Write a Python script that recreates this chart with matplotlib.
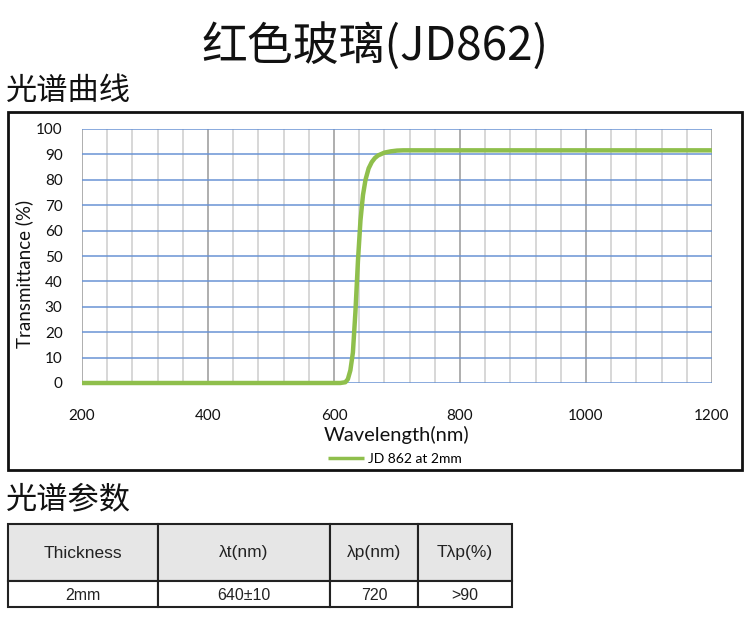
import matplotlib.pyplot as plt
from matplotlib.patches import Rectangle
from matplotlib.ticker import MultipleLocator

W, H = 750, 633

# curve
WAVELENGTH = [200, 500, 610, 618, 622, 626, 630, 634, 638, 642, 646, 650, 655,
              660, 665, 670, 680, 690, 700, 710, 720, 800, 1000, 1200]
TRANSMIT = [0, 0, 0, 0.3, 1.5, 5, 12, 28, 48, 64, 74, 80, 84.5,
            87, 88.6, 89.6, 90.7, 91.2, 91.5, 91.6, 91.6, 91.6, 91.6, 91.6]

TABLE_HEAD = ["Thickness", "λt(nm)", "λp(nm)", "Tλp(%)"]
TABLE_ROW = ["2mm", "640±10", "720", ">90"]

GREEN = "#8FBF4C"
BLUE_GRID = "#6A93D4"
GRAY_MAJ = "#A8A8A8"
GRAY_MIN = "#D4D4D4"
CJK = ["Noto Sans CJK SC", "DejaVu Sans"]
LAT = ["Lato", "DejaVu Sans"]
ARIAL = ["Liberation Sans", "DejaVu Sans"]


def fx(x):
    return x / W


def fy(y):
    return 1 - y / H


fig = plt.figure(figsize=(W / 100, H / 100), dpi=100, facecolor="white")

fig.text(0.5, fy(47), "红色玻璃(JD862)", ha="center", va="center",
         fontsize=33, family=CJK, color="#111111")
fig.text(fx(6), fy(91), "光谱曲线", ha="left", va="center",
         fontsize=22.5, family=CJK, color="#111111")
fig.text(fx(6), fy(499), "光谱参数", ha="left", va="center",
         fontsize=22.5, family=CJK, color="#111111")

# chart frame
fig.patches.append(Rectangle((fx(8), fy(470)), fx(742) - fx(8), fy(112) - fy(470),
                             transform=fig.transFigure, facecolor="white",
                             edgecolor="#111111", linewidth=2, zorder=-1))

ax = fig.add_axes([fx(82), fy(383), fx(712) - fx(82), fy(129) - fy(383)])
ax.set_zorder(2)
ax.set_facecolor("none")
ax.plot(WAVELENGTH, TRANSMIT, color=GREEN, linewidth=3.2, clip_on=False,
        solid_capstyle="butt", zorder=5, label="JD 862 at 2mm")
ax.set_xlim(200, 1200)
ax.set_ylim(0, 100)
ax.xaxis.set_major_locator(MultipleLocator(200))
ax.xaxis.set_minor_locator(MultipleLocator(40))
ax.yaxis.set_major_locator(MultipleLocator(10))
ax.grid(True, axis="x", which="minor", color=GRAY_MIN, linewidth=1.3)
ax.grid(True, axis="x", which="major", color=GRAY_MAJ, linewidth=1.3)
ax.grid(True, axis="y", which="major", color=BLUE_GRID, linewidth=1.1)
for s in ax.spines.values():
    s.set_visible(False)
ax.tick_params(axis="both", which="both", length=0)
ax.tick_params(axis="x", pad=19, labelsize=11)
ax.tick_params(axis="y", pad=14, labelsize=11)
for lab in ax.get_xticklabels() + ax.get_yticklabels():
    lab.set_family(LAT)
    lab.set_color("#111111")
ax.set_xlabel("Wavelength(nm)", fontsize=14.5, family=LAT, labelpad=2, color="#111111")
ax.set_ylabel("Transmittance (%)", fontsize=13.5, family=LAT, color="#111111")
ax.yaxis.set_label_coords(-0.077, 0.43)
leg = fig.legend(loc="center", bbox_to_anchor=(fx(395), fy(459)), frameon=False,
                 prop={"family": LAT, "size": 10}, handlelength=2.6, handletextpad=0.3)
leg.get_lines()[0].set_linewidth(2.5)
leg.set_zorder(3)

# parameter table
col_edges = [8, 158, 330, 418, 512]
row_edges = [524, 581, 607]
for i in range(len(TABLE_HEAD)):
    x0, x1 = col_edges[i], col_edges[i + 1]
    fig.patches.append(Rectangle((fx(x0), fy(row_edges[1])), fx(x1) - fx(x0),
                                 fy(row_edges[0]) - fy(row_edges[1]),
                                 transform=fig.transFigure, facecolor="#E6E6E6",
                                 edgecolor="#222222", linewidth=1.5))
    fig.patches.append(Rectangle((fx(x0), fy(row_edges[2])), fx(x1) - fx(x0),
                                 fy(row_edges[1]) - fy(row_edges[2]),
                                 transform=fig.transFigure, facecolor="white",
                                 edgecolor="#222222", linewidth=1.5))
    xc = fx((x0 + x1) / 2)
    fig.text(xc, fy(553), TABLE_HEAD[i], ha="center", va="center",
             fontsize=12.5, family=ARIAL, color="#222222")
    fig.text(xc, fy(595), TABLE_ROW[i], ha="center", va="center",
             fontsize=11.5, family=ARIAL, color="#222222")

fig.savefig("out.png", dpi=100, facecolor="white")
